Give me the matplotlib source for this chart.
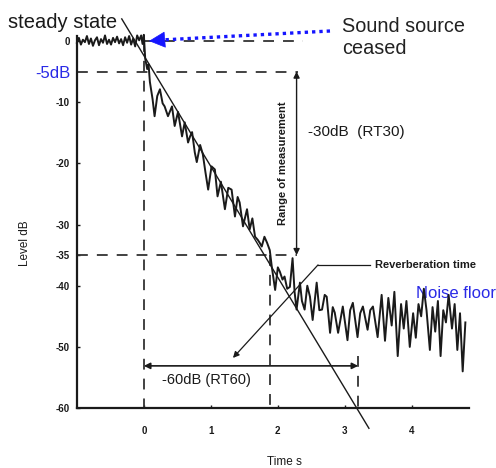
import matplotlib
matplotlib.use('Agg')
import matplotlib.pyplot as plt

plt.rcParams['font.family'] = ['Liberation Sans', 'DejaVu Sans']

# ---------------- data ----------------
time_s = [-1.00, -0.97, -0.94, -0.91, -0.88, -0.85, -0.82, -0.79, -0.76, -0.73,
          -0.70, -0.67, -0.64, -0.61, -0.58, -0.55, -0.52, -0.49, -0.46, -0.43,
          -0.40, -0.37, -0.34, -0.31, -0.28, -0.25, -0.22, -0.19, -0.16, -0.13,
          -0.10, -0.07, -0.04, -0.02, 0.00,
          0.02, 0.05, 0.07, 0.09, 0.13, 0.16, 0.20, 0.24, 0.28, 0.31,
          0.36, 0.42, 0.46, 0.51, 0.57, 0.61, 0.66, 0.69, 0.72, 0.76,
          0.79, 0.84, 0.88, 0.92, 0.96, 1.01, 1.06, 1.10, 1.15, 1.21,
          1.26, 1.31, 1.36, 1.40, 1.43, 1.48, 1.54, 1.58, 1.62, 1.66,
          1.70, 1.73, 1.76, 1.80, 1.84, 1.88, 1.91, 1.96, 2.00, 2.03,
          2.07, 2.10, 2.14, 2.18, 2.22, 2.25, 2.28, 2.33, 2.36, 2.40,
          2.44, 2.48, 2.52, 2.58, 2.62, 2.66, 2.70, 2.73, 2.78, 2.82,
          2.85, 2.90, 2.97, 3.04, 3.08, 3.12, 3.19, 3.23, 3.27, 3.34,
          3.38, 3.42, 3.49, 3.55, 3.60, 3.65, 3.70, 3.74, 3.79, 3.84,
          3.88, 3.92, 3.97, 4.02, 4.06, 4.10, 4.14, 4.18, 4.22, 4.27,
          4.31, 4.35, 4.39, 4.43, 4.47, 4.51, 4.55, 4.60, 4.64, 4.68,
          4.72, 4.76, 4.80]
level_db = [-0.3, 0.5, -0.6, 0.2, -0.2, 0.8, -0.5, 0.4, -0.8, 0.1,
            0.6, -0.7, 0.3, -0.3, 0.9, -0.5, 0.2, -0.6, 0.5, -0.2,
            0.7, -0.4, 0.3, -0.7, 0.6, -0.3, 0.8, -0.6, 0.4, -0.9,
            0.9, 0.1, 0.9, -0.5, 1.0,
            -2.9, -4.6, -3.8, -6.7, -9.5, -12.3, -9.0, -7.9, -10.2, -10.7,
            -12.3, -10.7, -13.9, -11.6, -15.6, -13.3, -16.6, -15.6, -14.9, -18.2,
            -19.8, -17.0, -18.5, -21.5, -24.3, -20.5, -21.0, -25.4, -23.0, -27.5,
            -24.0, -24.3, -28.7, -25.5, -26.4, -30.3, -27.5, -30.8, -29.0, -32.0,
            -32.5, -33.0, -33.6, -32.0, -33.0, -34.2, -36.9, -40.7, -37.0, -37.7,
            -39.0, -38.5, -40.5, -40.2, -35.5, -41.0, -43.9, -39.5, -42.5, -43.9,
            -40.0, -41.8, -45.6, -39.5, -44.0, -43.9, -41.5, -41.8, -47.7, -43.5,
            -44.4, -47.7, -43.4, -48.9, -44.0, -42.8, -48.4, -44.5, -43.4, -47.2,
            -44.0, -43.4, -48.4, -41.5, -49.0, -42.0, -46.5, -41.0, -51.5, -43.0,
            -47.0, -42.5, -50.0, -44.5, -48.5, -43.0, -45.0, -40.5, -44.0, -50.5,
            -43.5, -47.5, -42.5, -51.5, -44.0, -46.0, -41.5, -47.0, -43.0, -50.5,
            -44.5, -54.0, -46.0]

fit_t = [-0.33, 3.36]
fit_db = [3.6, -63.3]

xticks = [0, 1, 2, 3, 4]
yticks = [0, -10, -20, -30, -35, -40, -50, -60]
ytick_labels = ['0', '-10', '-20', '-30', '-35', '-40', '-50', '-60']

t_stop = 0.0
t_minus35 = 1.88
rt60 = 3.2
rt60_arrow_level = -53.1
range_top = -5
range_bottom = -35
t_range_arrow = 2.28

BLUE = '#2a2ae6'
INK = '#1a1a1a'
W, H = 496, 468

# ---------------- figure ----------------
fig = plt.figure(figsize=(W / 100, H / 100), dpi=100)
ax = fig.add_axes([0.155, 0.128, 0.790, 0.795])
ax.set_xlim(-1, 4.85)
ax.set_ylim(-60, 0.8)
for s in ['top', 'right']:
    ax.spines[s].set_visible(False)
for s in ['left', 'bottom']:
    ax.spines[s].set_linewidth(1.6)
    ax.spines[s].set_color(INK)

ax.set_xticks(xticks)
ax.set_yticks(yticks)
ax.set_yticklabels(ytick_labels)
ax.tick_params(axis='both', direction='in', length=2.5, width=1, labelsize=7, colors=INK)
ax.tick_params(axis='x', pad=13)
ax.tick_params(axis='y', pad=5)
for lbl in ax.get_xticklabels() + ax.get_yticklabels():
    lbl.set_fontweight('bold')

def fig_frac(x, y):
    return x / W, 1 - y / H

def px2data(x, y):
    return tuple(ax.transData.inverted().transform((x, H - y)))

# signal
ax.plot(time_s, level_db, color=INK, lw=1.4, clip_on=False, zorder=4)
# regression line
ax.plot(fit_t, fit_db, color=INK, lw=1.0, clip_on=False, zorder=3)

dash = dict(color='#333333', lw=1.3, dashes=(6, 5), clip_on=False, zorder=2)
ax.plot([t_stop, 2.37], [0, 0], **dash)
ax.plot([-1, 2.30], [range_top, range_top], **dash)
ax.plot([-1, t_range_arrow], [range_bottom, range_bottom], **dash)
ax.plot([t_stop, t_stop], [0, -60], **dash)
ax.plot([t_minus35, t_minus35], [range_bottom, -60], **dash)
ax.plot([rt60, rt60], [-51.5, -60], **dash)

# range of measurement arrow
ax.annotate('', xy=(t_range_arrow, range_top), xytext=(t_range_arrow, range_bottom),
            arrowprops=dict(arrowstyle='<|-|>', lw=1.0, color=INK,
                            mutation_scale=9, shrinkA=0, shrinkB=0))
ax.text(2.07, -20, 'Range of measurement', rotation=90, ha='center', va='center',
        fontsize=8, fontweight='bold', color=INK)
ax.text(2.45, -14.9, '-30dB  (RT30)', ha='left', va='center', fontsize=11, color=INK)

# RT60 arrow
ax.annotate('', xy=(t_stop, rt60_arrow_level), xytext=(rt60, rt60_arrow_level),
            arrowprops=dict(arrowstyle='<|-|>', lw=1.2, color=INK,
                            mutation_scale=9, shrinkA=0, shrinkB=0))
ax.text(0.27, -55.4, '-60dB (RT60)', ha='left', va='center', fontsize=10.5, color=INK)

# Reverberation time leader
ax.plot([3.37, 2.60], [-36.6, -36.6], color=INK, lw=0.9)
ax.annotate('', xy=(1.33, -51.8), xytext=(2.60, -36.6),
            arrowprops=dict(arrowstyle='-|>', lw=0.9, color=INK,
                            mutation_scale=9, shrinkA=0, shrinkB=0))
ax.text(3.45, -36.6, 'Reverberation time', ha='left', va='center',
        fontsize=8, fontweight='bold', color=INK)

ax.text(4.07, -41.3, 'Noise floor', ha='left', va='center', fontsize=12, color=BLUE,
        clip_on=False)

# outside texts
fig.text(*fig_frac(8, 22), 'steady state', ha='left', va='center', fontsize=14.5, color=INK)
fig.text(*fig_frac(342, 32), 'Sound source', ha='left', va='baseline', fontsize=14.3, color='#222222')
fig.text(*fig_frac(342, 54), 'ceased', ha='left', va='baseline', fontsize=14.3, color='#222222')
fig.text(*fig_frac(71, 73), '-5dB', ha='right', va='center', fontsize=12, color=BLUE)
fig.text(*fig_frac(25, 243), 'Level dB', rotation=90, ha='center', va='center',
         fontsize=8.5, color=INK)
fig.text(*fig_frac(284, 462), 'Time s', ha='center', va='center', fontsize=8.5,
         color=INK)

# blue dotted arrow
p0 = px2data(330, 31)
p1 = px2data(161, 40)
tip = px2data(149, 41)
ax.plot([p0[0], p1[0]], [p0[1], p1[1]], color='#1515ff', lw=2.4, ls=(0, (1, 1.2)),
        clip_on=False)
ax.annotate('', xy=tip, xytext=p1, annotation_clip=False,
            arrowprops=dict(arrowstyle='-|>,head_length=0.9,head_width=0.45',
                            color='#1515ff', lw=0.5, mutation_scale=12,
                            shrinkA=0, shrinkB=0))

fig.savefig('out.png', dpi=100)
